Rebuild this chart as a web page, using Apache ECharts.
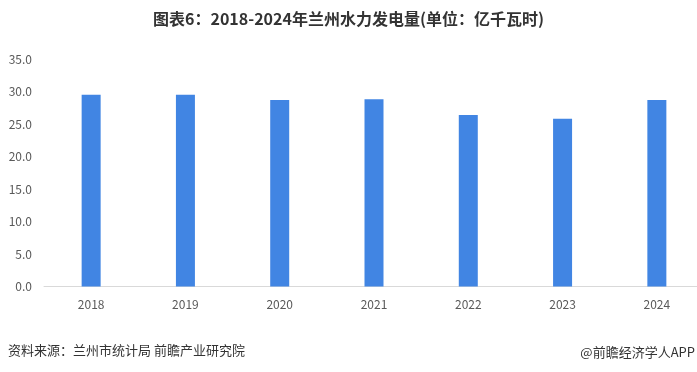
<!DOCTYPE html>
<html>
<head>
<meta charset="utf-8">
<script src="https://cdn.jsdelivr.net/npm/echarts@6/dist/echarts.min.js"></script>
<style>html,body{margin:0;padding:0;background:#fff;overflow:hidden;width:697px;height:372px;}#c{width:704px;height:372px;}</style>
</head>
<body>
<div id="c"></div>
<script>
const categories = ['2018', '2019', '2020', '2021', '2022', '2023', '2024'];
const values = [29.5, 29.5, 28.7, 28.8, 26.4, 25.8, 28.7];
const yTicks = [0, 5, 10, 15, 20, 25, 30, 35];

const FONT = '"Noto Sans CJK SC", "Noto Sans", sans-serif';
const chart = echarts.init(document.getElementById('c'), null, {renderer: 'canvas'});
chart.setOption({
  animation: false,
  textStyle: {fontFamily: FONT},
  grid: {left: 44, top: 59, right: 0, bottom: 85.5, containLabel: false},
  xAxis: {
    type: 'category',
    data: categories,
    axisLine: {lineStyle: {color: '#d9d9d9', width: 1}},
    axisTick: {show: false},
    axisLabel: {color: '#595959', fontSize: 12, margin: 12, fontFamily: FONT}
  },
  yAxis: {
    type: 'value',
    min: yTicks[0],
    max: yTicks[yTicks.length - 1],
    interval: 5,
    splitLine: {show: false},
    axisLine: {show: false},
    axisTick: {show: false},
    axisLabel: {
      color: '#595959', fontSize: 12, margin: 12, fontFamily: FONT,
      formatter: v => v.toFixed(1)
    }
  },
  series: [{
    type: 'bar',
    data: values,
    barWidth: 19,
    itemStyle: {color: '#4185e3'}
  }],
  graphic: [
    {type: 'text', x: 348.5, y: 19, style: {text: '图表6：2018-2024年兰州水力发电量(单位：亿千瓦时)', fill: '#333333', font: 'bold 16px ' + FONT, textAlign: 'center', textVerticalAlign: 'middle'}},
    {type: 'text', left: 8, top: 344, style: {text: '资料来源：兰州市统计局 前瞻产业研究院', fill: '#333333', font: '13px ' + FONT}},
    {type: 'text', x: 695, y: 352, style: {text: '@前瞻经济学人APP', fill: '#333333', font: '13px ' + FONT, textAlign: 'right', textVerticalAlign: 'middle'}}
  ]
});
</script>
</body>
</html>
